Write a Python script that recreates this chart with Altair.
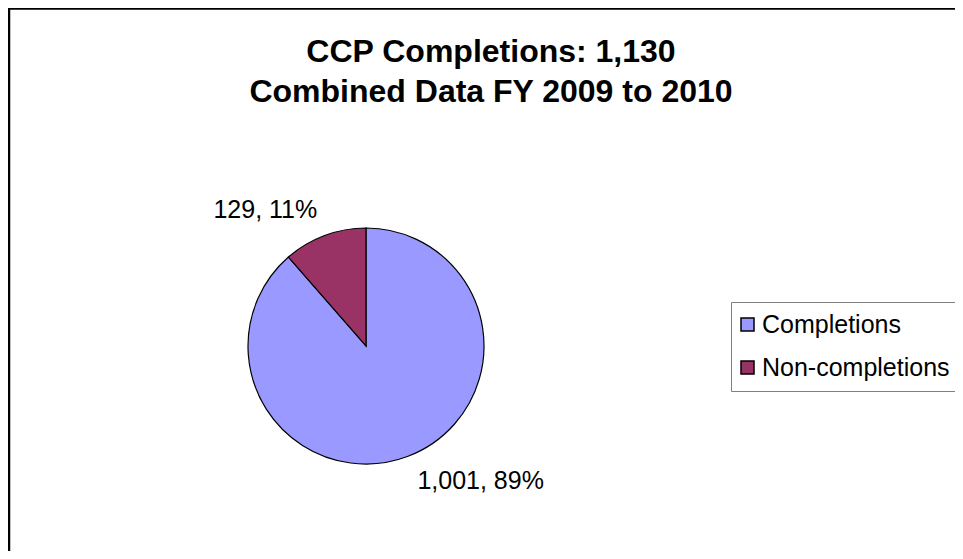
import altair as alt
import pandas as pd

# ---- data ----
categories = ["Completions", "Non-completions"]
counts = [1001, 129]
colors = ["#9999FF", "#993366"]
title_lines = ["CCP Completions: 1,130", "Combined Data FY 2009 to 2010"]

total = sum(counts)
labels = [f"{c:,}, {round(100 * c / total)}%" for c in counts]
df = pd.DataFrame({"category": categories, "count": counts, "label": labels})

FONT = "Liberation Sans"
CX, CY, R = 358, 338, 118

one = pd.DataFrame({"a": [0]})

border = alt.Chart(one).mark_rect(
    fillOpacity=0, stroke="black", strokeWidth=2.5
).encode(
    x=alt.value(1), y=alt.value(0.5), x2=alt.value(1400), y2=alt.value(1400)
)

title = alt.Chart(one).mark_text(
    font=FONT, fontSize=32, fontWeight="bold", align="center",
    baseline="alphabetic", lineHeight=40, color="black"
).encode(x=alt.value(483), y=alt.value(54), text=alt.value(title_lines))

base = alt.Chart(df)

color = alt.Color(
    "category:N",
    scale=alt.Scale(domain=categories, range=colors),
    legend=alt.Legend(
        title=None, orient="none", legendX=723, legendY=294, padding=10,
        strokeColor="#808080", fillColor="white", symbolType="square",
        symbolSize=169, symbolStrokeColor="black", symbolStrokeWidth=1.5,
        symbolOpacity=1, symbolOffset=-6, labelFont=FONT, labelFontSize=25,
        labelColor="black", labelLimit=400, rowPadding=17, labelOffset=2,
    ),
)

theta = alt.Theta("count:Q", stack=True)
order = alt.Order("category:N", sort="ascending")

arcs = base.mark_arc(radius=R, stroke="black", strokeWidth=1.2).encode(
    theta=theta, color=color, order=order, x=alt.value(CX), y=alt.value(CY)
)

text_style = dict(font=FONT, fontSize=25, color="black", align="center", baseline="middle", radius=150)

lab_nc = base.transform_calculate(
    t="datum.category == 'Non-completions' ? datum.label : ''"
).mark_text(dx=-48, dy=4.5, **text_style).encode(
    theta=theta, detail="category:N", order=order, text="t:N",
    x=alt.value(CX), y=alt.value(CY)
)

lab_c = base.transform_calculate(
    t="datum.category == 'Completions' ? datum.label : ''"
).mark_text(dx=62, dy=-5.5, **text_style).encode(
    theta=theta, detail="category:N", order=order, text="t:N",
    x=alt.value(CX), y=alt.value(CY)
)

chart = alt.layer(border, title, arcs, lab_nc, lab_c).properties(
    width=947, height=543, autosize=alt.AutoSizeParams(type="none"), padding=0
).configure_view(strokeWidth=0)

chart.save("out.html", embed_options={"renderer": "svg", "actions": False})
